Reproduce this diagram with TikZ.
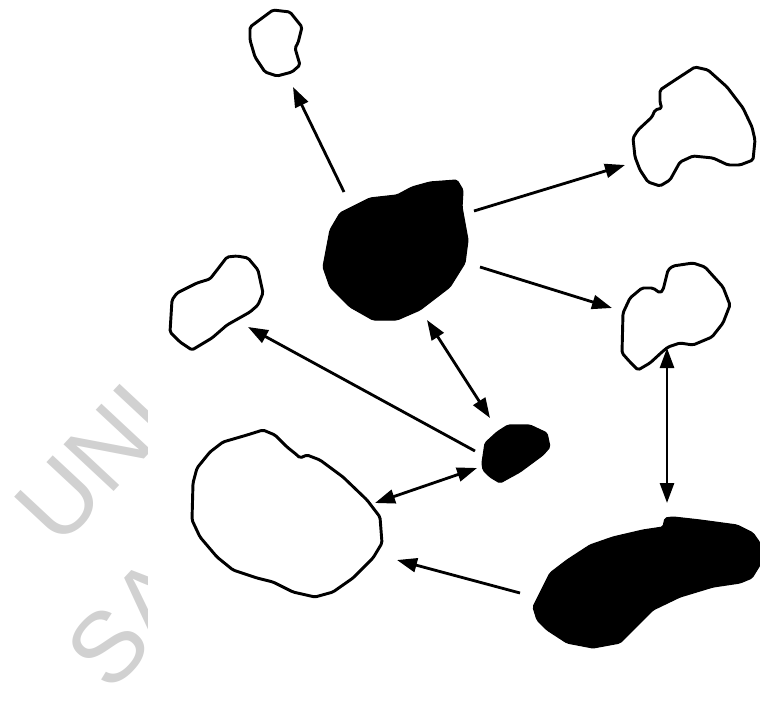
\documentclass[tikz,border=0pt]{standalone}
\usepackage{fontspec}
\usepackage{tikz}
\usetikzlibrary{arrows.meta}
\newfontfamily\markfont{Liberation Sans}
\tikzset{cellwhite/.style={draw=black,line width=2.5pt,fill=white,line join=round,rounded corners=1.5pt}, cellblack/.style={fill=black,draw=black,line width=1pt,line join=round,rounded corners=1.5pt}, arrow/.style={-{Triangle[length=6mm,width=4.2mm]},line width=2.4pt,draw=black}, dblarrow/.style={{Triangle[length=6mm,width=4.2mm]}-{Triangle[length=6mm,width=4.2mm]},line width=2.4pt,draw=black}, mark text/.style={text=black!18,font=\fontsize{85}{85}\selectfont\markfont,inner sep=0pt,rotate=47}}

\begin{document}
\begin{tikzpicture}[x=0.03cm,y=-0.03cm]
\useasboundingbox (0,0) rectangle (760,702);
% faint watermark, cut at the left strip
\begin{scope}
\clip (0,0) rectangle (147,702);
\node[mark text,anchor=west] (markone) at (35,527) {UNI};\node[mark text,anchor=west] (marktwo) at (85,671) {SA};
\end{scope}
% cells
\draw[cellwhite] (250,27)--(273,10)--(290,12)--(302,27)--(298,43)--(295,48)--(300,65)--(292,72)--(277,76)--(265,72)--(255,57)--(250,40)--cycle;
\draw[cellblack] (323,267)--(330,230)--(340,213)--(370,198)--(397,195)--(412,187)--(430,182)--(457,180)--(463,190)--(462,207)--(468,240)--(465,263)--(450,287)--(420,310)--(397,320)--(373,320)--(350,307)--(330,287)--cycle;
\draw[cellwhite] (633,138)--(638,130)--(652,117)--(655,110)--(662,108)--(660,103)--(660,90)--(672,82)--(695,67)--(708,70)--(727,87)--(743,108)--(752,127)--(755,140)--(753,160)--(740,165)--(728,165)--(713,158)--(693,156)--(680,162)--(670,180)--(660,186)--(648,182)--(640,170)--(635,157)--cycle;
\draw[cellwhite] (623,313)--(630,298)--(642,288)--(653,288)--(660,293)--(663,290)--(668,270)--(673,266)--(693,263)--(705,267)--(723,287)--(730,305)--(723,323)--(712,337)--(693,345)--(680,343)--(668,347)--(662,352)--(650,363)--(638,370)--(630,362)--(622,353)--cycle;
\draw[cellwhite] (170,332)--(172,300)--(177,293)--(197,283)--(210,279)--(217,270)--(227,257)--(237,256)--(248,258)--(258,270)--(263,293)--(258,305)--(250,312)--(227,325)--(212,338)--(192,350)--(180,342)--cycle;
\draw[cellblack] (482,463)--(485,443)--(497,432)--(508,425)--(530,425)--(547,433)--(550,447)--(543,455)--(520,472)--(500,483)--(490,477)--(483,470)--cycle;
\draw[cellwhite] (192,520)--(193,483)--(197,468)--(210,452)--(223,442)--(247,435)--(263,430)--(275,435)--(287,447)--(297,455)--(300,458)--(307,455)--(320,460)--(343,477)--(367,500)--(380,517)--(382,543)--(373,558)--(353,578)--(333,592)--(315,597)--(293,592)--(273,582)--(257,578)--(233,570)--(217,557)--(200,537)--cycle;
\draw[cellblack] (533,607)--(540,593)--(550,573)--(567,560)--(590,545)--(613,537)--(643,530)--(663,527)--(665,518)--(673,517)--(700,520)--(737,525)--(753,533)--(760,543)--(760,565)--(752,578)--(740,583)--(713,587)--(680,597)--(653,610)--(633,630)--(620,643)--(593,648)--(567,643)--(547,630)--(537,620)--cycle;
% arrow ends
\coordinate (bigup) at (344,192);\coordinate (topcell) at (293,87);\coordinate (bigright) at (474,211);\coordinate (rightcell) at (625,165);
\coordinate (bigdown) at (480,267);\coordinate (midcell) at (612,308);\coordinate (bigbottom) at (427,320);\coordinate (smalltop) at (490,418);
\coordinate (smallleft) at (475,451);\coordinate (leftcell) at (248,327);\coordinate (smallbottom) at (477,468);\coordinate (ovalright) at (375,503);
\coordinate (midbottom) at (667,348);\coordinate (slugtop) at (667,503);\coordinate (slugleft) at (520,593);\coordinate (ovallow) at (397,560);
\draw[arrow] (bigup)--(topcell);\draw[arrow] (bigright)--(rightcell);\draw[arrow] (bigdown)--(midcell);\draw[dblarrow] (bigbottom)--(smalltop);
\draw[arrow] (smallleft)--(leftcell);\draw[dblarrow] (smallbottom)--(ovalright);\draw[dblarrow] (midbottom)--(slugtop);\draw[arrow] (slugleft)--(ovallow);
\end{tikzpicture}
\end{document}
